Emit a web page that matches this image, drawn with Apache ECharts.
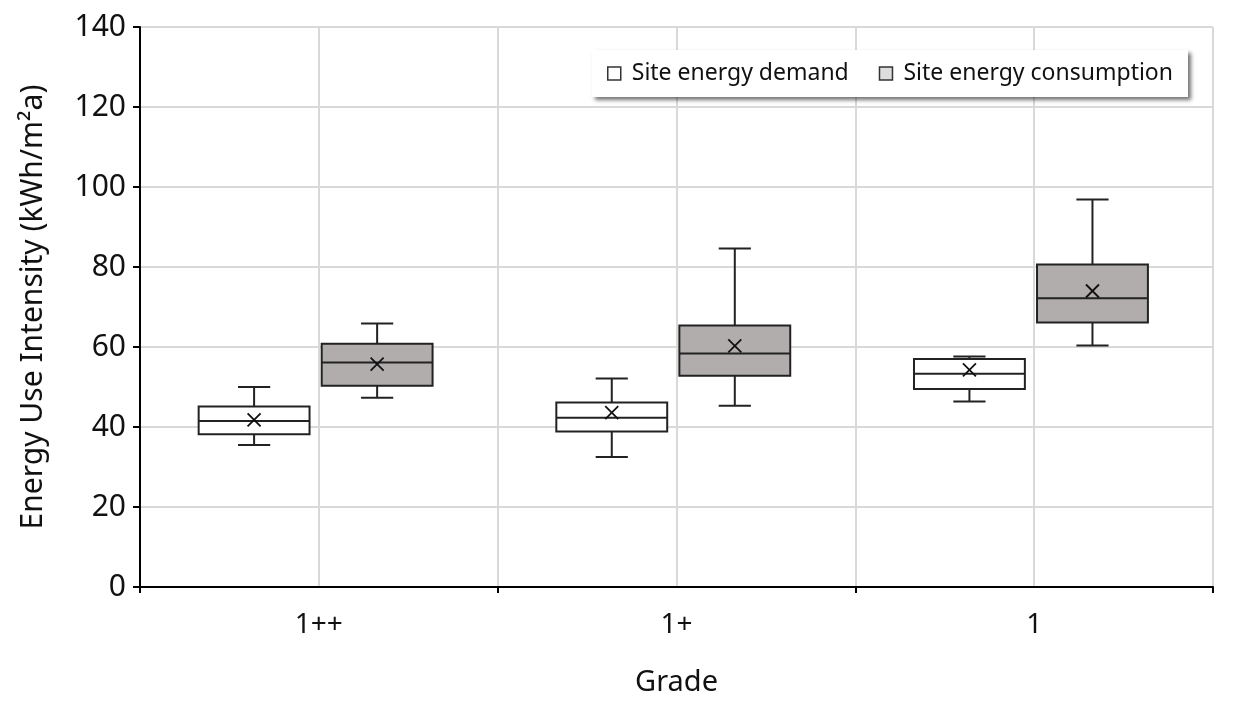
<!DOCTYPE html>
<html>
<head>
<meta charset="utf-8">
<script src="https://cdn.jsdelivr.net/npm/echarts@6/dist/echarts.min.js"></script>
<style>
html,body{margin:0;padding:0;background:#fff;}
#chart{width:1235px;height:709px;}
</style>
</head>
<body>
<div id="chart"></div>
<script>
// ---- data ----
const categories = ['1++', '1+', '1'];
// [min, Q1, median, Q3, max]
const demandStats = [
  [35.5, 38.2, 41.5, 45.1, 50.0],
  [32.5, 38.9, 42.3, 46.1, 52.1],
  [46.4, 49.5, 53.3, 57.0, 57.6]
];
const demandMeans = [41.8, 43.6, 54.3];
const consumptionStats = [
  [47.3, 50.3, 56.1, 60.8, 65.9],
  [45.3, 52.8, 58.4, 65.4, 84.6],
  [60.4, 66.1, 72.2, 80.6, 96.9]
];
const consumptionMeans = [55.7, 60.3, 74.0];
const seriesNames = ['Site energy demand', 'Site energy consumption'];
const yTicks = [0, 20, 40, 60, 80, 100, 120, 140];

// ---- layout / style ----
const FONT = '"Noto Sans", "Open Sans", sans-serif';
const BOX_W = 0.31, CAP_W = 0.09, X_HALF = 6.5;
const STROKE = '#222';

function buildData(stats, means) {
  return stats.map((s, i) => [i].concat(s).concat([means[i]]));
}

function makeRender(offset, fill) {
  return function (params, api) {
    const x = api.value(0) + offset;
    const pMin = api.coord([x, api.value(1)]);
    const pQ1 = api.coord([x, api.value(2)]);
    const pMed = api.coord([x, api.value(3)]);
    const pQ3 = api.coord([x, api.value(4)]);
    const pMax = api.coord([x, api.value(5)]);
    const pMean = api.coord([x, api.value(6)]);
    const half = api.size([BOX_W, 0])[0] / 2;
    const cap = api.size([CAP_W, 0])[0] / 2;
    const cx = pMed[0];
    const ls = { stroke: STROKE, lineWidth: 2 };
    const line = (x1, y1, x2, y2, st) => ({ type: 'line', shape: { x1, y1, x2, y2 }, style: st || ls });
    return {
      type: 'group',
      children: [
        line(cx, pQ3[1], cx, pMax[1]),
        line(cx, pQ1[1], cx, pMin[1]),
        line(cx - cap, pMax[1], cx + cap, pMax[1]),
        line(cx - cap, pMin[1], cx + cap, pMin[1]),
        { type: 'rect', shape: { x: cx - half, y: pQ3[1], width: half * 2, height: pQ1[1] - pQ3[1] },
          style: { fill: fill, stroke: STROKE, lineWidth: 2 } },
        line(cx - half, pMed[1], cx + half, pMed[1]),
        line(cx - X_HALF, pMean[1] - X_HALF, cx + X_HALF, pMean[1] + X_HALF, { stroke: '#111', lineWidth: 1.8 }),
        line(cx - X_HALF, pMean[1] + X_HALF, cx + X_HALF, pMean[1] - X_HALF, { stroke: '#111', lineWidth: 1.8 })
      ]
    };
  };
}

const chart = echarts.init(document.getElementById('chart'));
chart.setOption({
  animation: false,
  backgroundColor: '#fff',
  textStyle: { fontFamily: FONT },
  grid: { left: 140, right: 22, top: 27, bottom: 122, containLabel: false },
  legend: {
    top: 50, right: 47,
    padding: [12, 15, 12, 15],
    backgroundColor: '#fff',
    shadowColor: 'rgba(0,0,0,0.55)', shadowBlur: 4, shadowOffsetX: 3, shadowOffsetY: 3,
    itemWidth: 13, itemHeight: 13, itemGap: 30,
    textStyle: { fontSize: 23, color: '#111', fontFamily: FONT, padding: [0, 0, 0, 6] },
    data: [
      { name: seriesNames[0], icon: 'rect', itemStyle: { color: '#fff', borderColor: '#333', borderWidth: 1.5 } },
      { name: seriesNames[1], icon: 'rect', itemStyle: { color: '#ddd', borderColor: '#333', borderWidth: 1.5 } }
    ]
  },
  xAxis: [
    {
      type: 'category', data: categories, boundaryGap: true,
      name: 'Grade', nameLocation: 'middle', nameGap: 81,
      nameTextStyle: { fontSize: 29, color: '#111' },
      axisLine: { onZero: false, lineStyle: { color: '#000', width: 2 } },
      axisTick: { show: true, alignWithLabel: false, length: 6, lineStyle: { color: '#000', width: 2 } },
      axisLabel: { fontSize: 28, color: '#111', margin: 24 },
      splitLine: { show: false }
    },
    {
      type: 'value', min: -0.5, max: 2.5, interval: 0.5, position: 'bottom',
      axisLine: { show: false, onZero: false }, axisTick: { show: false }, axisLabel: { show: false },
      splitLine: { show: true, lineStyle: { color: '#d9d9d9', width: 2 } }
    }
  ],
  yAxis: {
    type: 'value', min: yTicks[0], max: yTicks[yTicks.length - 1], interval: yTicks[1] - yTicks[0],
    name: 'Energy Use Intensity (kWh/m²a)', nameLocation: 'middle', nameGap: 92,
    nameTextStyle: { fontSize: 30, color: '#111' },
    axisLine: { show: true, onZero: false, lineStyle: { color: '#000', width: 2 } },
    axisTick: { show: true, length: 7, lineStyle: { color: '#000', width: 2 } },
    axisLabel: { fontSize: 30, color: '#111', margin: 14 },
    splitLine: { show: true, lineStyle: { color: '#d9d9d9', width: 2 } }
  },
  series: [
    {
      name: seriesNames[0], type: 'custom', xAxisIndex: 1, yAxisIndex: 0,
      itemStyle: { color: '#fff' },
      renderItem: makeRender(-0.181, '#fff'),
      encode: { x: 0, y: [1, 2, 3, 4, 5, 6] },
      data: buildData(demandStats, demandMeans), z: 5
    },
    {
      name: seriesNames[1], type: 'custom', xAxisIndex: 1, yAxisIndex: 0,
      itemStyle: { color: '#b1adad' },
      renderItem: makeRender(0.163, '#b1adad'),
      encode: { x: 0, y: [1, 2, 3, 4, 5, 6] },
      data: buildData(consumptionStats, consumptionMeans), z: 5
    }
  ]
});
</script>
</body>
</html>
